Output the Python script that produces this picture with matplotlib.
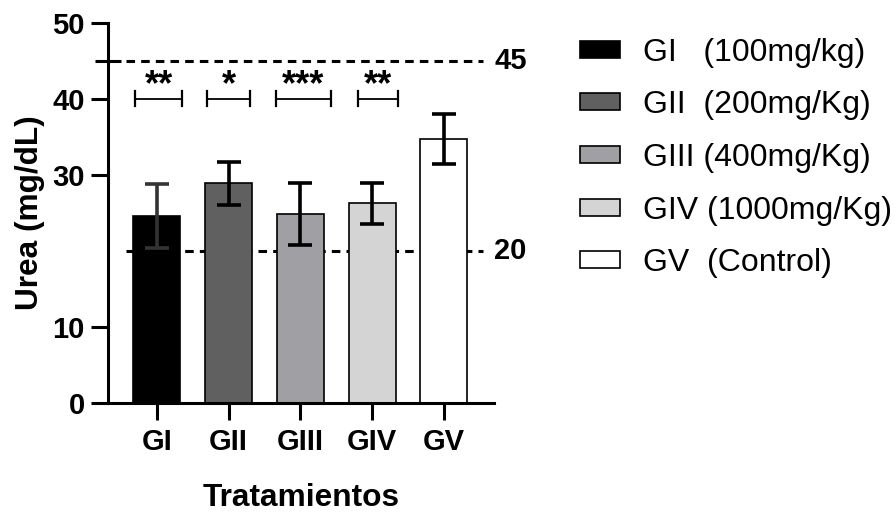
import matplotlib
matplotlib.use("Agg")
import matplotlib.pyplot as plt
from matplotlib.patches import Patch

plt.rcParams["font.family"] = ["Liberation Sans", "DejaVu Sans"]

# ─── data ──────────────────────────────────────────────────────────────────
groups = ["GI", "GII", "GIII", "GIV", "GV"]
urea_mean = [24.6, 28.9, 24.9, 26.3, 34.7]
urea_err = [4.15, 2.85, 4.1, 2.7, 3.3]
legend_labels = ["GI   (100mg/kg)", "GII  (200mg/Kg)", "GIII (400mg/Kg)",
                 "GIV (1000mg/Kg)", "GV  (Control)"]
ref_lines = [45, 20]

# significance brackets vs control: (group index, left offset, right offset, stars)
sig_group = [0, 1, 2, 3]
sig_left = [-0.30, -0.30, -0.34, -0.20]
sig_right = [0.35, 0.30, 0.42, 0.36]
sig_stars = ["**", "*", "***", "**"]
sig_y = 40

# ─── styles ────────────────────────────────────────────────────────────────
BAR_COLORS = ["#000000", "#606060", "#a0a0a4", "#d4d4d4", "#ffffff"]
ERR_COLORS = ["#333333", "#000000", "#000000", "#000000", "#000000"]
LW = 2.2
TICK_FS = 21
LABEL_FS = 22.8

fig = plt.figure(figsize=(8.96, 5.13), dpi=100)
ax = fig.add_axes([0.121, 0.2138, 0.4298, 0.742])

x = list(range(len(groups)))
ax.bar(x, urea_mean, width=0.655, color=BAR_COLORS, edgecolor="black",
       linewidth=1.2, zorder=2)
for xi, m, e, c in zip(x, urea_mean, urea_err, ERR_COLORS):
    ax.errorbar(xi, m, yerr=e, fmt="none", ecolor=c, elinewidth=2.6,
                capsize=8.5, capthick=2.6, zorder=3)

# dashed reference lines (behind bars), labelled on the right
trans = ax.get_yaxis_transform()
for v in ref_lines:
    ax.plot([0.0465, 0.973], [v, v], transform=trans, color="black", lw=LW,
            linestyle=(0, (2.8, 2.0)), zorder=1, clip_on=False)
    ax.text(1.002, v, str(v), transform=trans, ha="left", va="center",
            fontsize=TICK_FS, fontweight="bold")

# significance brackets
for g, l, r, s in zip(sig_group, sig_left, sig_right, sig_stars):
    x0, x1 = g + l, g + r
    ax.plot([x0, x1], [sig_y, sig_y], color="black", lw=1.3, zorder=3)
    ax.plot([x0, x0], [sig_y - 1, sig_y + 1], color="black", lw=1.6, zorder=3)
    ax.plot([x1, x1], [sig_y - 1, sig_y + 1], color="black", lw=1.6, zorder=3)
    ax.text((x0 + x1) / 2, sig_y + 0.45, s, ha="center", va="baseline",
            fontsize=26, fontweight="bold")

# axes
ax.set_xlim(-0.673, 4.69)
ax.set_ylim(0, 50)
ax.set_xticks(x)
ax.set_xticklabels(groups, fontsize=TICK_FS, fontweight="bold")
ax.set_yticks([0, 10, 30, 40, 50])
ax.set_yticklabels(["0", "10", "30", "40", "50"], fontsize=TICK_FS, fontweight="bold")
ax.set_yticks([45], minor=True)
ax.tick_params(axis="both", which="major", length=12, width=LW, pad=5)
ax.tick_params(axis="x", which="major", pad=6)
ax.tick_params(axis="y", which="minor", direction="inout", length=19, width=LW)
for side in ["top", "right"]:
    ax.spines[side].set_visible(False)
for side in ["left", "bottom"]:
    ax.spines[side].set_linewidth(LW)

ax.set_ylabel("Urea (mg/dL)", fontsize=LABEL_FS, fontweight="bold")
ax.yaxis.set_label_coords(-0.165, 0.5)
ax.set_xlabel("Tratamientos", fontsize=LABEL_FS, fontweight="bold")
ax.xaxis.set_label_coords(0.5, -0.209)

# legend
handles = [Patch(facecolor=c, edgecolor="black", linewidth=1.2) for c in BAR_COLORS]
fig.legend(handles, legend_labels, loc="upper left", bbox_to_anchor=(0.647, 0.9267),
           frameon=False, fontsize=23, handlelength=1.25, handleheight=0.44,
           handletextpad=0.72, labelspacing=0.71, borderpad=0, borderaxespad=0)

fig.savefig("out.png", dpi=100, facecolor="white")
